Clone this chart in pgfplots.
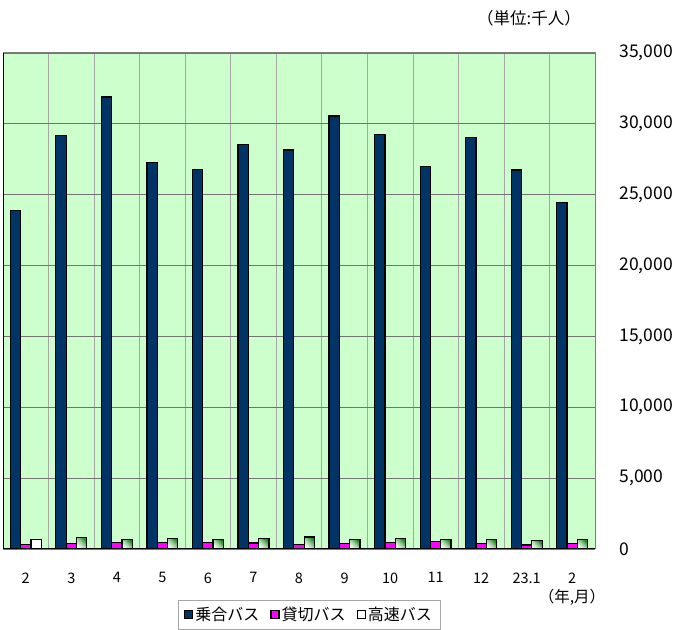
\documentclass[border=0pt]{standalone}
\usepackage{fontspec}
\setmainfont{Noto Sans CJK JP}
\usepackage{pgfplots}
\pgfplotsset{compat=1.18}
\definecolor{bggreen}{HTML}{CCFFCC}
\definecolor{navy}{HTML}{003366}
\definecolor{hwgreen}{HTML}{138A13}
\definecolor{pink}{HTML}{FF00FF}

\begin{document}
\begin{tikzpicture}
\begin{axis}[
    width=592pt, height=496pt, scale only axis,
    xmin=-0.5, xmax=12.5, ymin=0, ymax=35000,
    ybar, bar width=10.3pt,
    xtick={0,...,12},
    xticklabels={2,3,4,5,6,7,8,9,10,11,12,23.1,2},
    minor xtick={0.5,1.5,...,11.5},
    xminorgrids, ymajorgrids,
    major grid style={black!55, line width=0.7pt},
    minor grid style={black!35, line width=0.6pt},
    ytick={0,5000,...,35000},
    yticklabel pos=right,
    major tick length=0pt, minor tick length=0pt,
    scaled y ticks=false,
    /pgf/number format/1000 sep={,},
    /pgf/number format/assume math mode=true,
    yticklabel style={font=\fontsize{17.5}{17.5}\selectfont, anchor=west, xshift=21pt},
    xticklabel style={font=\fontsize{14.5}{14.5}\selectfont, yshift=-20pt},
    axis background/.style={fill=bggreen},
    axis line style={gray, line width=1pt},
    legend style={at={(0.2956,-0.1028)}, anchor=north west, legend columns=3,
        draw=gray!70, font=\fontsize{16}{16}\selectfont, inner ysep=5pt, inner xsep=6pt,
        /tikz/every odd column/.append style={column sep=0pt},
        /tikz/every even column/.append style={column sep=9pt}},
    legend image code/.code={\draw[#1, line width=1.2pt] (0pt,-4pt) rectangle (8pt,4pt);},
    hw/.style={draw=black, line width=1.2pt, bar shift=10.3pt,
        top color=hwgreen, bottom color=white, middle color=white!60!hwgreen, shading angle=-45},
]
\addplot[draw=black, line width=1.2pt, fill=navy, bar shift=-10.3pt] coordinates {
    (0,23900) (1,29200) (2,31900) (3,27300) (4,26800) (5,28550) (6,28150)
    (7,30550) (8,29250) (9,27000) (10,29050) (11,26750) (12,24450)
};
\addplot[draw=black, line width=1.2pt, fill=pink, bar shift=0pt] coordinates {
    (0,330) (1,370) (2,460) (3,460) (4,440) (5,420) (6,330)
    (7,380) (8,480) (9,530) (10,380) (11,280) (12,370)
};
% 高速バス: one plot per bar so that each bar gets its own shading
\addplot[hw, top color=white, middle color=white] coordinates {(0,680)};
\addplot[hw, forget plot] coordinates {(1,830)};
\addplot[hw, forget plot] coordinates {(2,680)};
\addplot[hw, forget plot] coordinates {(3,760)};
\addplot[hw, forget plot] coordinates {(4,680)};
\addplot[hw, forget plot] coordinates {(5,730)};
\addplot[hw, forget plot] coordinates {(6,850)};
\addplot[hw, forget plot] coordinates {(7,680)};
\addplot[hw, forget plot] coordinates {(8,730)};
\addplot[hw, forget plot] coordinates {(9,680)};
\addplot[hw, forget plot] coordinates {(10,660)};
\addplot[hw, forget plot] coordinates {(11,590)};
\addplot[hw, forget plot] coordinates {(12,660)};
\legend{乗合バス,貸切バス,高速バス}
\draw[black, line width=1.2pt] (rel axis cs:0,1) -- (rel axis cs:0,0) -- (rel axis cs:1,0);
\coordinate (sw) at (rel axis cs:0,0);
\coordinate (ne) at (rel axis cs:1,1);
\coordinate (se) at (rel axis cs:1,0);
\end{axis}
\node[font=\fontsize{16.5}{16.5}\selectfont] at ([xshift=-66pt,yshift=35pt]ne) {（単位:千人）};
\node[font=\fontsize{15.5}{15.5}\selectfont] at ([xshift=-23pt,yshift=-48pt]se) {（年,月）};
\pgfresetboundingbox
\path[use as bounding box] ([xshift=-3pt,yshift=-81pt]sw) rectangle ([xshift=88pt,yshift=53pt]ne);
\end{tikzpicture}
\end{document}
